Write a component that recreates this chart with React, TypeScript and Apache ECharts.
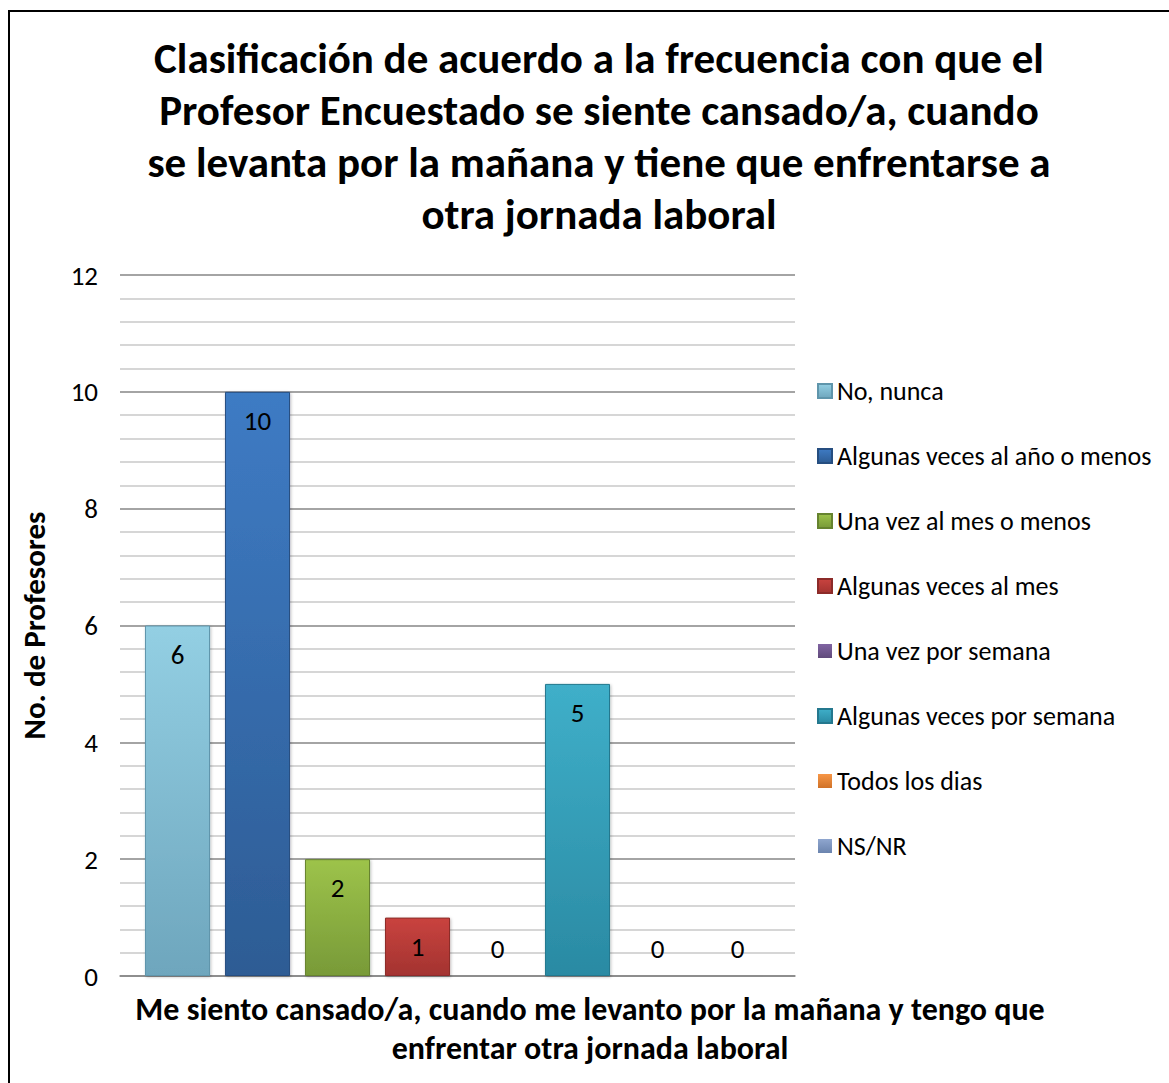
import React, { useEffect, useRef } from "react";
import * as echarts from "echarts";

const categories = ["Me siento cansado/a"];
const seriesNames = [
  "No, nunca",
  "Algunas veces al año o menos",
  "Una vez al mes o menos",
  "Algunas veces al mes",
  "Una vez por semana",
  "Algunas veces por semana",
  "Todos los dias",
  "NS/NR",
];
const seriesValues = [6, 10, 2, 1, 0, 5, 0, 0];
const yTicks = { min: 0, max: 12, interval: 2 };
const topColors = ["#93CFE3", "#3E7BC4", "#9DC34A", "#C9433F", "#8064A2", "#3FAFC9", "#F79646", "#8FA6CF"];
const bottomColors = ["#6EA6BD", "#2D5C94", "#789A38", "#A33330", "#604A7B", "#2A8AA3", "#D07228", "#6B84AE"];
const borderColors = ["#5F95AB", "#264E80", "#66832F", "#8C2B29", "#523F69", "#24788E", "#B66220", "#5C739A"];

const titleText =
  "Clasificación de acuerdo a la frecuencia con que el\nProfesor Encuestado se siente cansado/a, cuando\nse levanta por la mañana y tiene que enfrentarse a\notra jornada laboral";
const xTitle = "Me siento cansado/a, cuando me levanto por la mañana y tengo que\nenfrentar otra jornada laboral";
const yTitle = "No. de Profesores";

const FONT = "Carlito, 'Open Sans', 'Noto Sans', sans-serif";

export default function App() {
  const ref = useRef<HTMLDivElement>(null);
  useEffect(() => {
    if (!ref.current) return;
    const chart = echarts.init(ref.current, undefined, { renderer: "svg" });
    const series = seriesNames.map((name, i) => ({
      name,
      type: "bar",
      data: [seriesValues[i]],
      barGap: "23%",
      barCategoryGap: "7.4%",
      itemStyle: {
        color: new echarts.graphic.LinearGradient(0, 0, 0, 1, [
          { offset: 0, color: topColors[i] },
          { offset: 1, color: bottomColors[i] },
        ]),
        borderColor: borderColors[i],
        borderWidth: seriesValues[i] === 0 ? 0 : 1,
        shadowColor: "rgba(0,0,0,0.25)",
        shadowBlur: seriesValues[i] === 0 ? 0 : 3,
        shadowOffsetX: 1,
        shadowOffsetY: 1,
      },
      label: {
        show: true,
        position: seriesValues[i] === 0 ? "top" : "insideTop",
        distance: seriesValues[i] === 0 ? 14 : 15,
        color: "#000",
        fontSize: 27,
        fontFamily: FONT,
      },
    }));
    chart.setOption({
      animation: false,
      backgroundColor: "#fff",
      title: [
        {
          text: titleText,
          left: 594,
          top: 27,
          textAlign: "center",
          textStyle: {
            fontFamily: FONT,
            fontWeight: "bold",
            fontSize: 43,
            lineHeight: 52,
            color: "#000",
          },
        },
        {
          text: xTitle,
          left: 585,
          top: 985,
          textAlign: "center",
          textStyle: {
            fontFamily: FONT,
            fontWeight: "bold",
            fontSize: 32,
            lineHeight: 39,
            color: "#000",
          },
        },
      ],
      legend: {
        orient: "vertical",
        left: 812,
        top: 373,
        itemWidth: 14,
        itemHeight: 14,
        itemGap: 39,
        icon: "rect",
        textStyle: { fontFamily: FONT, fontSize: 26, lineHeight: 26, color: "#000", padding: [0, 0, 0, 0] },
        data: seriesNames,
      },
      grid: { left: 120, right: 374, top: 275, bottom: 107, containLabel: false },
      xAxis: {
        type: "category",
        data: categories,
        axisLabel: { show: false },
        axisTick: { show: false },
        axisLine: { lineStyle: { color: "#868686", width: 1.5 } },
      },
      yAxis: {
        type: "value",
        min: yTicks.min,
        max: yTicks.max,
        interval: yTicks.interval,
        name: yTitle,
        nameLocation: "middle",
        nameGap: 71,
        nameTextStyle: { fontFamily: FONT, fontWeight: "bold", fontSize: 31, color: "#000" },
        axisLabel: { fontFamily: FONT, fontSize: 27, color: "#000", margin: 22 },
        axisLine: { show: false },
        axisTick: { show: false },
        splitLine: { lineStyle: { color: "#868686", width: 1.5 } },
        minorTick: { show: false, splitNumber: 5 },
        minorSplitLine: { show: true, lineStyle: { color: "#C8C8C8", width: 1.5 } },
      },
      graphic: [
        {
          type: "rect",
          shape: { x: 9, y: 11, width: 1200, height: 1100 },
          style: { fill: "none", stroke: "#000", lineWidth: 2 },
          silent: true,
        },
      ],
      series,
    });
    return () => chart.dispose();
  }, []);
  return (
    <div style={{ position: "fixed", left: 0, top: 0, width: 1169, height: 1083 }}>
      <div ref={ref} style={{ width: 1169, height: 1083 }} />
    </div>
  );
}
